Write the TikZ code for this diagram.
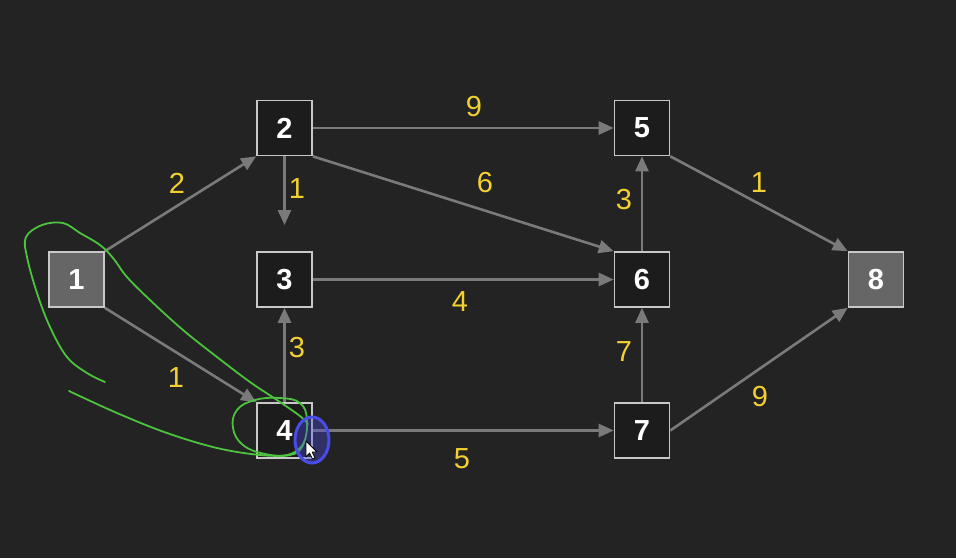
\documentclass[tikz,border=0pt]{standalone}
\usepackage{fontspec}
\setmainfont{Liberation Sans}
\usetikzlibrary{arrows.meta}
\definecolor{bg}{HTML}{232323}
\definecolor{boxfill}{HTML}{1C1C1C}
\definecolor{boxline}{HTML}{C8C8C8}
\definecolor{endfill}{HTML}{666666}
\definecolor{edgecol}{HTML}{7A7A7A}
\definecolor{wcol}{HTML}{F2D032}
\definecolor{pen}{HTML}{4CC23E}
\definecolor{ring}{HTML}{4A4CE6}
\tikzset{
  vertex/.style={draw=boxline, line width=1.6pt, fill=boxfill, minimum size=55pt,
    inner sep=0pt, text=white, font=\fontsize{29}{30}\selectfont\bfseries},
  endvertex/.style={vertex, fill=endfill},
  edge/.style={draw=edgecol, line width=2.6pt, -{Triangle[length=15pt,width=13pt]}},
  weight/.style={text=wcol, font=\fontsize{29}{30}\selectfont, inner sep=0pt},
  ink/.style={draw=pen, line width=1.8pt, line cap=round, line join=round}
}
\begin{document}
\begin{tikzpicture}[x=1pt,y=-1pt]
  \fill[bg] (0,0) rectangle (956,558);
  \useasboundingbox (0,0) rectangle (956,558);

  % vertices
  \node[endvertex] (n1) at (76.5,279.5) {1};
  \node[vertex] (n2) at (284.5,128) {2};
  \node[vertex] (n3) at (284.5,279.5) {3};
  \node[vertex] (n4) at (284.5,430.5) {4};
  \node[vertex] (n5) at (642,128) {5};
  \node[vertex] (n6) at (642,279.5) {6};
  \node[vertex] (n7) at (642,430.5) {7};
  \node[endvertex] (n8) at (876,279.5) {8};
  \coordinate (stop23) at (284.5,225);

  % edges
  \draw[edge] (n1.north east) -- (n2.south west);
  \draw[edge] (n1.south east) -- (n4.north west);
  \draw[edge] (n2.south) -- (stop23);
  \draw[edge] (n2.east) -- (n5.west);
  \draw[edge] (n2.south east) -- (n6.north west);
  \draw[edge] (n3.east) -- (n6.west);
  \draw[edge] (n4.north) -- (n3.south);
  \draw[edge] (n4.east) -- (n7.west);
  \draw[edge] (n6.north) -- (n5.south);
  \draw[edge] (n7.north) -- (n6.south);
  \draw[edge] (n5.south east) -- (n8.north west);
  \draw[edge] (n7.east) -- (n8.south west);

  % weights
  \node[weight] (w12) at (177,183) {2};
  \node[weight] (w14) at (176,378) {1};
  \node[weight] (w25) at (474,107) {9};
  \node[weight] (w23) at (297,189) {1};
  \node[weight] (w26) at (485,183) {6};
  \node[weight] (w65) at (624,200) {3};
  \node[weight] (w58) at (759,183) {1};
  \node[weight] (w36) at (460,302) {4};
  \node[weight] (w43) at (297,348) {3};
  \node[weight] (w76) at (624,352) {7};
  \node[weight] (w78) at (760,397) {9};
  \node[weight] (w47) at (462,459) {5};

  % hand-drawn annotations
  \draw[ink] plot[smooth, tension=0.6] coordinates {
    (105,382) (87,373) (67,357) (50,327) (37,293) (27,257) (26,237) (42,225)
    (63,223) (80,233) (100,245) (113,258) (127,277) (150,300) (183,330)
    (217,357) (250,382) (277,400) (300,416) (308,424)};
  \draw[ink] plot[smooth, tension=0.6] coordinates {
    (69,391) (117,413) (167,433) (217,448) (260,455) (287,455) (300,448) (305,440)};
  \draw[ink] plot[smooth cycle, tension=0.7] coordinates {
    (280,398) (300,403) (307,420) (303,445) (290,455) (265,454) (243,445)
    (233,428) (237,410) (255,400)};
  \draw[ring, line width=3pt, fill=ring, fill opacity=0.35] (312,440) ellipse [x radius=17, y radius=23];
  \draw[black, line width=0.8pt, fill=white, line join=round]
    (306,441) -- (306,457) -- (309.5,453) -- (312.5,459) -- (315,458) -- (312.2,452)
    -- (317,452) -- cycle;
\end{tikzpicture}
\end{document}
